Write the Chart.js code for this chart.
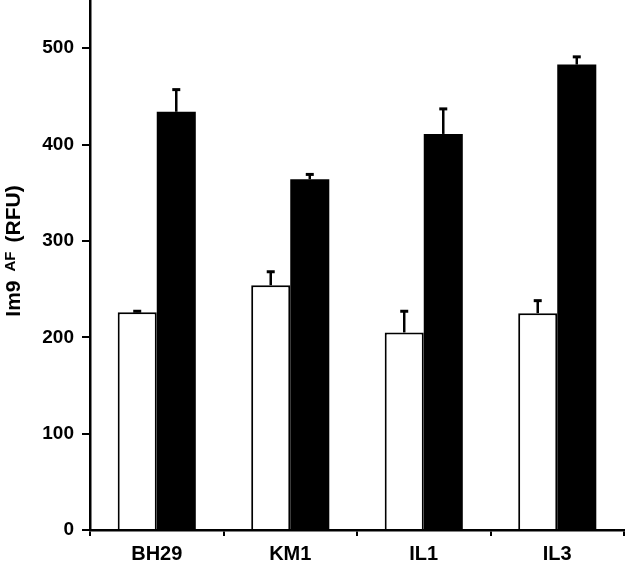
<!DOCTYPE html>
<html>
<head>
<meta charset="utf-8">
<script src="https://cdn.jsdelivr.net/npm/chart.js@4"></script>
<style>
  html, body { margin: 0; padding: 0; background: #fff; }
  canvas { display: block; }
</style>
</head>
<body>
<canvas id="bar-chart" width="626" height="563"></canvas>
<script>
const categories = ['BH29', 'KM1', 'IL1', 'IL3'];
const whiteValues = [226, 254, 205, 225];
const whiteErrors = [1, 14, 22, 13];
const blackValues = [434, 364, 411, 483];
const blackErrors = [23, 5, 26, 8];
const yTicks = [0, 100, 200, 300, 400, 500];

// upward-only error bars with a small cap
const errorBars = {
  id: 'errorBars',
  afterDatasetsDraw(chart) {
    const ctx = chart.ctx;
    const y = chart.scales.y;
    chart.data.datasets.forEach((ds, i) => {
      const meta = chart.getDatasetMeta(i);
      meta.data.forEach((bar, j) => {
        const top = y.getPixelForValue(ds.data[j] + ds.errors[j]);
        ctx.save();
        ctx.strokeStyle = '#000';
        ctx.lineWidth = 2.5;
        ctx.beginPath();
        ctx.moveTo(bar.x, bar.y);
        ctx.lineTo(bar.x, top);
        ctx.stroke();
        ctx.lineWidth = 3;
        ctx.beginPath();
        ctx.moveTo(bar.x - 4, top);
        ctx.lineTo(bar.x + 4, top);
        ctx.stroke();
        ctx.restore();
      });
    });
  }
};

// y title with superscript "AF"
const yTitle = {
  id: 'yTitle',
  afterDraw(chart) {
    const ctx = chart.ctx;
    const parts = [
      { t: 'Im9', font: 'bold 21px "Liberation Sans", Arial, sans-serif', dy: 0 },
      { t: 'AF', font: 'bold 15px "Liberation Sans", Arial, sans-serif', dy: -5 },
      { t: '(RFU)', font: 'bold 21px "Liberation Sans", Arial, sans-serif', dy: 0 }
    ];
    const gap = 9;
    let total = 0;
    parts.forEach(p => { ctx.font = p.font; p.w = ctx.measureText(p.t).width; total += p.w; });
    total += gap * (parts.length - 1);
    ctx.save();
    ctx.translate(20, 251);
    ctx.rotate(-Math.PI / 2);
    ctx.fillStyle = '#000';
    ctx.textBaseline = 'alphabetic';
    let x = -total / 2;
    parts.forEach(p => {
      ctx.font = p.font;
      ctx.fillText(p.t, x, p.dy);
      x += p.w + gap;
    });
    ctx.restore();
  }
};

new Chart(document.getElementById('bar-chart'), {
  type: 'bar',
  data: {
    labels: categories,
    datasets: [
      {
        label: 'white',
        data: whiteValues,
        errors: whiteErrors,
        backgroundColor: '#fff',
        borderColor: '#000',
        borderWidth: 2,
        borderSkipped: 'start'
      },
      {
        label: 'black',
        data: blackValues,
        errors: blackErrors,
        backgroundColor: '#000',
        borderColor: '#000',
        borderWidth: 0
      }
    ]
  },
  options: {
    responsive: false,
    animation: false,
    categoryPercentage: 0.585,
    barPercentage: 1,
    layout: { padding: { top: 0, right: 2, left: 0, bottom: 0 } },
    plugins: {
      legend: { display: false },
      tooltip: { enabled: false }
    },
    scales: {
      x: {
        grid: { display: true, drawOnChartArea: false, offset: true, tickLength: 6, color: '#000', lineWidth: 2 },
        border: { display: true, color: '#000', width: 2.5 },
        ticks: {
          color: '#000',
          padding: 6,
          font: { family: '"Liberation Sans", Arial, sans-serif', size: 20, weight: 'bold' }
        },
        afterFit(scale) { scale.height = 33; scale.paddingRight = 0; scale.paddingLeft = 0; }
      },
      y: {
        min: 0,
        max: 550,
        grid: { display: true, drawOnChartArea: false, tickLength: 8, color: '#000', lineWidth: 2 },
        border: { display: true, color: '#000', width: 2.5 },
        ticks: {
          stepSize: 100,
          color: '#000',
          padding: 8,
          font: { family: '"Liberation Sans", Arial, sans-serif', size: 19, weight: 'bold' }
        },
        afterBuildTicks(scale) { scale.ticks = yTicks.map(v => ({ value: v })); },
        afterFit(scale) { scale.width = 90; scale.paddingTop = 0; scale.paddingBottom = 0; }
      }
    }
  },
  plugins: [errorBars, yTitle]
});
</script>
</body>
</html>
